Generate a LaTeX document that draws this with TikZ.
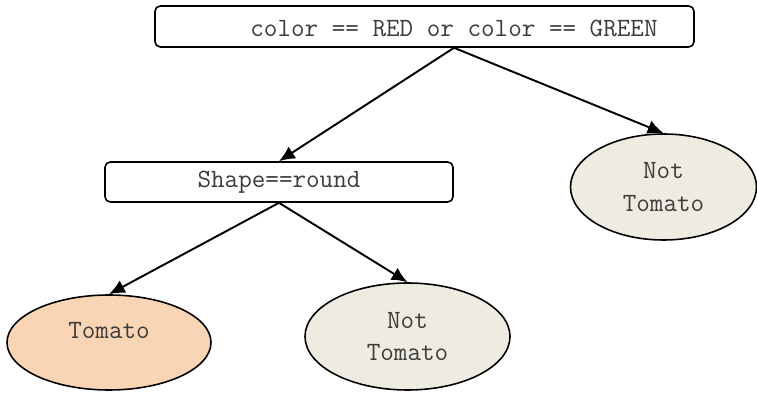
\documentclass[tikz,border=0pt]{standalone}
\usepackage{tikz}
\usetikzlibrary{positioning,calc}
\usetikzlibrary{arrows.meta,shapes.geometric}
\definecolor{TomatoFill}{RGB}{249,213,181}
\definecolor{PlainFill}{RGB}{238,235,224}
\definecolor{TextGrey}{RGB}{60,60,60}
\tikzset{cond/.style={draw=black,line width=0.9pt,rounded corners=3pt,fill=white,inner sep=0pt},
txt/.style={font=\ttfamily\fontsize{15}{18.5}\selectfont,text=TextGrey,align=center},
leaf/.style={ellipse,draw=black,line width=0.9pt,inner sep=0pt,font=\ttfamily\fontsize{15}{18.5}\selectfont,text=TextGrey,align=center},
edge/.style={line width=1.1pt,-{Latex[length=9pt,width=8pt]}}}
\begin{document}
\begin{tikzpicture}[x=0.02cm,y=-0.02cm]
\useasboundingbox (0,0) rectangle (757,394);
\coordinate (ca) at (424.5,26.5);
\coordinate (cb) at (279,182);
\coordinate (la) at (663.5,187);
\coordinate (lb) at (109,342.5);
\coordinate (lc) at (407.5,336.5);
\node[cond,minimum width=539*0.02cm,minimum height=41*0.02cm] (colour) at (ca) {};
\node[txt] (colourtxt) at (454,28) {color == RED or color == GREEN};
\node[cond,minimum width=348*0.02cm,minimum height=40*0.02cm] (shape) at (cb) {};
\node[txt] (shapetxt) at (cb) {Shape==round};
\node[leaf,fill=PlainFill,minimum width=186*0.02cm,minimum height=106*0.02cm] (nota) at (la) {Not\\Tomato};
\node[leaf,fill=TomatoFill,minimum width=204*0.02cm,minimum height=95*0.02cm] (tomato) at (lb) {};
\node[txt] (tomatotxt) at (109,331) {Tomato};
\node[leaf,fill=PlainFill,minimum width=205*0.02cm,minimum height=107*0.02cm] (notb) at (lc) {Not\\Tomato};
\draw[edge] (colourtxt |- colour.south) -- (shape.north);
\draw[edge] (colourtxt |- colour.south) -- (nota.north);
\draw[edge] (shape.south) -- (tomato.north);
\draw[edge] (shape.south) -- (notb.north);
\end{tikzpicture}
\end{document}
